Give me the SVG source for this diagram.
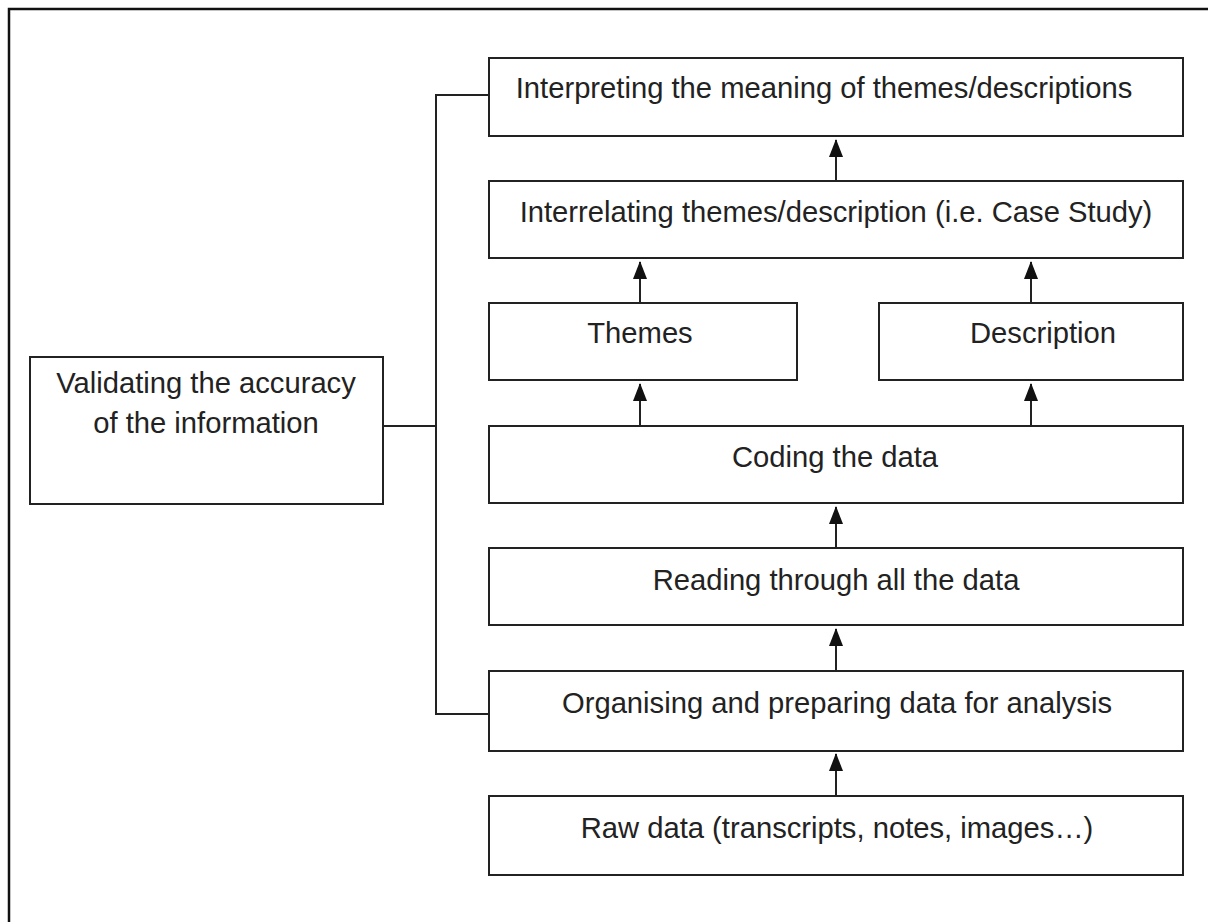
<svg xmlns="http://www.w3.org/2000/svg" width="1208" height="922" viewBox="0 0 1208 922">
<style>
.box{fill:#fff;stroke:#222;stroke-width:2}
.t{font-family:"Liberation Sans",Arial,sans-serif;font-size:29.2px;fill:#222;text-anchor:middle}
.c{fill:none;stroke:#222;stroke-width:2}
</style>
<defs>
<marker id="ah" markerUnits="userSpaceOnUse" markerWidth="18" markerHeight="14" viewBox="0 0 18 14" refX="17" refY="7" orient="auto">
<path d="M18,7 L0,0 L0,14 Z" fill="#111"/>
</marker>
</defs>
<rect x="0" y="0" width="1208" height="922" fill="#fff"/>
<path d="M9,930 L9,9 L1215,9" fill="none" stroke="#111" stroke-width="2.5"/>
<g id="n-interpret"><rect class="box" x="489" y="58" width="694" height="78"/><text class="t" x="824" y="98">Interpreting the meaning of themes/descriptions</text></g>
<g id="n-interrelate"><rect class="box" x="489" y="181" width="694" height="77"/><text class="t" x="836" y="222">Interrelating themes/description (i.e. Case Study)</text></g>
<g id="n-themes"><rect class="box" x="489" y="303" width="308" height="77"/><text class="t" x="640" y="343">Themes</text></g>
<g id="n-description"><rect class="box" x="879" y="303" width="304" height="77"/><text class="t" x="1043" y="343">Description</text></g>
<g id="n-coding"><rect class="box" x="489" y="426" width="694" height="77"/><text class="t" x="835" y="467">Coding the data</text></g>
<g id="n-reading"><rect class="box" x="489" y="548" width="694" height="77"/><text class="t" x="836" y="590">Reading through all the data</text></g>
<g id="n-organising"><rect class="box" x="489" y="671" width="694" height="80"/><text class="t" x="837" y="713">Organising and preparing data for analysis</text></g>
<g id="n-raw"><rect class="box" x="489" y="796" width="694" height="79"/><text class="t" x="837" y="838">Raw data (transcripts, notes, images…)</text></g>
<g id="n-validate"><rect class="box" x="30" y="357" width="353" height="147"/><text class="t" x="206" y="393">Validating the accuracy</text><text class="t" x="206" y="433">of the information</text></g>
<g id="connectors">
<path class="c" d="M489,95 L436,95 L436,714 L489,714"/>
<path class="c" d="M383,426 L436,426"/>
<line class="c" x1="836" y1="181" x2="836" y2="140" marker-end="url(#ah)"/>
<line class="c" x1="640" y1="303" x2="640" y2="262" marker-end="url(#ah)"/>
<line class="c" x1="1031" y1="303" x2="1031" y2="262" marker-end="url(#ah)"/>
<line class="c" x1="640" y1="426" x2="640" y2="384" marker-end="url(#ah)"/>
<line class="c" x1="1031" y1="426" x2="1031" y2="384" marker-end="url(#ah)"/>
<line class="c" x1="836" y1="548" x2="836" y2="507" marker-end="url(#ah)"/>
<line class="c" x1="836" y1="671" x2="836" y2="629" marker-end="url(#ah)"/>
<line class="c" x1="836" y1="796" x2="836" y2="754" marker-end="url(#ah)"/>
</g>
</svg>
